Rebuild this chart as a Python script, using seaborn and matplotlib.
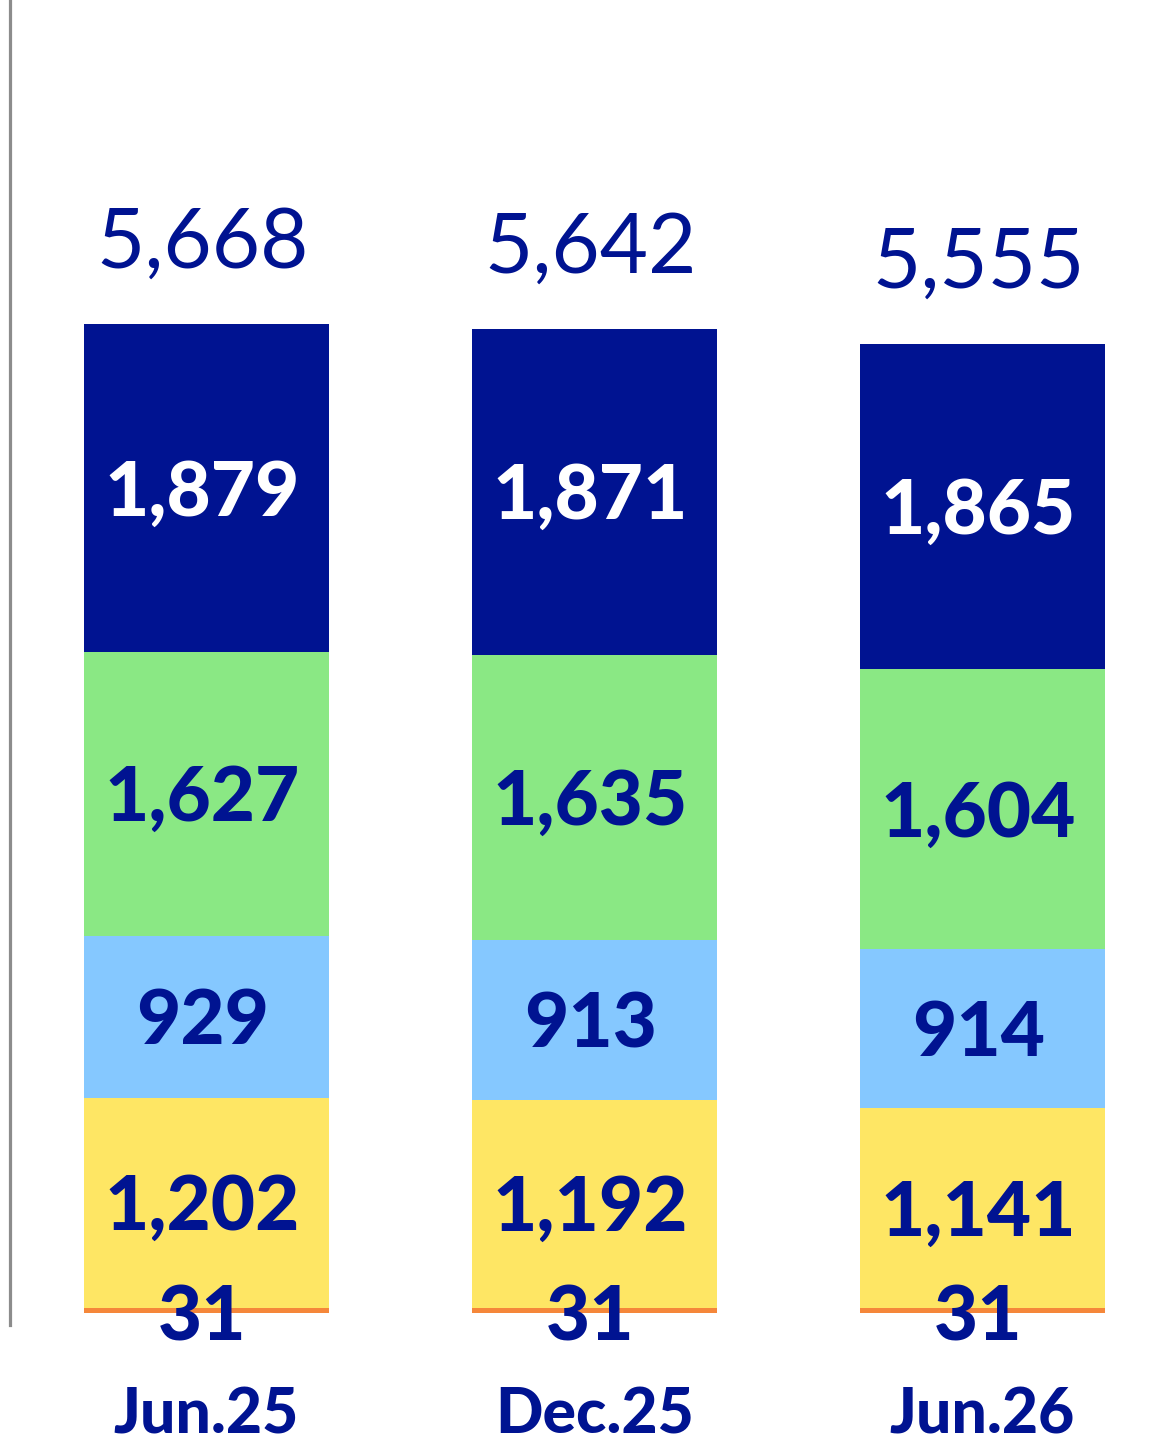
import matplotlib
matplotlib.use('Agg')
import matplotlib.pyplot as plt
import seaborn as sns
import pandas as pd
import numpy as np

# ---- data ----
periods = ['Jun.25', 'Dec.25', 'Jun.26']
seg_other = [31, 31, 31]
seg_yellow = [1202, 1192, 1141]
seg_blue = [929, 913, 914]
seg_green = [1627, 1635, 1604]
seg_navy = [1879, 1871, 1865]
totals = [5668, 5642, 5555]

layers = [seg_other, seg_yellow, seg_blue, seg_green, seg_navy]
colors = ['#F5873A', '#FEE664', '#85C8FF', '#8AE884', '#001391']
label_colors = ['#001391', '#001391', '#001391', '#001391', 'white']
NAVY = '#001391'

sns.set_theme(style='white')
plt.rcParams['font.family'] = ['Lato', 'DejaVu Sans']

fig = plt.figure(figsize=(11.76, 14.46), dpi=100)
ax = fig.add_axes([9.5 / 1176, 121 / 1446, 1 - 9.5 / 1176, 1325 / 1446])

cum = np.cumsum(np.array(layers), axis=0)
for i in range(len(layers) - 1, -1, -1):
    df = pd.DataFrame({'period': periods, 'value': cum[i]})
    sns.barplot(data=df, x='period', y='value', color=colors[i], width=0.63,
                saturation=1, errorbar=None, ax=ax, edgecolor='none', linewidth=0)

ax.set_xlim(-0.508, 2.499)
ax.set_ylim(-68.8, 7524.8)

for s in ['top', 'right', 'bottom']:
    ax.spines[s].set_visible(False)
ax.spines['left'].set_color('#8C8C8C')
ax.spines['left'].set_linewidth(2.3)
ax.set_yticks([])
ax.set_xlabel('')
ax.set_ylabel('')
ax.tick_params(axis='x', length=0, pad=44)
for lab in ax.get_xticklabels():
    lab.set_fontsize(45)
    lab.set_fontweight('black')
    lab.set_color(NAVY)
    lab.set_fontfamily(['Lato', 'DejaVu Sans'])

dx = -3
LS = 55
# segment labels
for i in range(1, len(layers)):
    for j in range(len(periods)):
        yc = cum[i][j] - layers[i][j] / 2
        ax.annotate(f"{layers[i][j]:,}", xy=(j, yc), xytext=(dx, -LS * 0.717 / 2),
                    textcoords='offset points', ha='center', va='baseline',
                    fontsize=LS, fontweight='black', color=label_colors[i])
# small bottom segment labels
for j in range(len(periods)):
    ax.annotate(f"{seg_other[j]:,}", xy=(j, 0), xytext=(dx, -LS * 0.717 / 2),
                textcoords='offset points', ha='center', va='baseline',
                fontsize=LS, fontweight='black', color=NAVY)
# totals
for j in range(len(periods)):
    ax.annotate(f"{totals[j]:,}", xy=(j, totals[j]), xytext=(dx, 40.5),
                textcoords='offset points', ha='center', va='baseline',
                fontsize=60, fontweight='normal', color=NAVY)

fig.savefig('out.png', dpi=100)
